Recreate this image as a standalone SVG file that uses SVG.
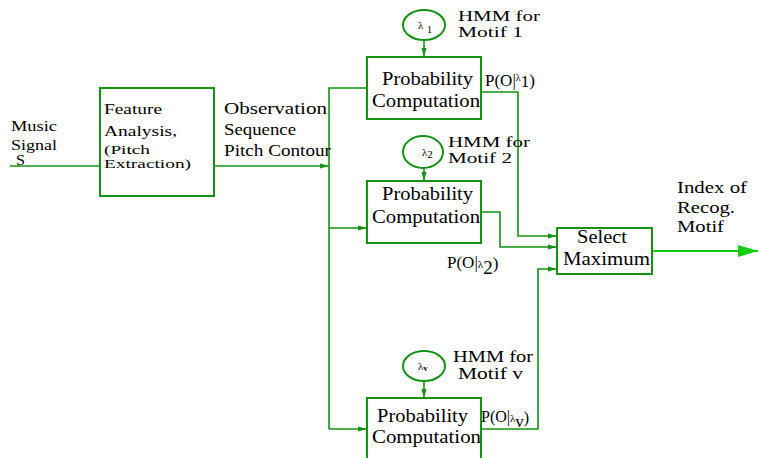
<svg xmlns="http://www.w3.org/2000/svg" width="758" height="458" viewBox="0 0 758 458">
<defs>
<style>
text{font-family:'Liberation Serif','Times New Roman',Times,serif;fill:#000}
.f13{font-size:13px}
.f14{font-size:14px}
.f15{font-size:15px}
.f16{font-size:16px}
.f17{font-size:17px}
.f18{font-size:18px}
.box{fill:none;stroke:#159115;stroke-width:2}
.ln{fill:none;stroke:#159115;stroke-width:1.6}
</style>
<marker id="ah" markerWidth="10" markerHeight="8" refX="9" refY="4" orient="auto" markerUnits="userSpaceOnUse">
<path d="M0,1.5 L9,4 L0,6.5 Z" fill="#159115"/>
</marker>
<marker id="big" markerWidth="22" markerHeight="14" refX="20" refY="7" orient="auto" markerUnits="userSpaceOnUse">
<path d="M0,1 L20,7 L0,13 Z" fill="#11cc11"/>
</marker>
</defs>
<rect width="758" height="458" fill="#fff"/>
<g id="connectors">
<line class="ln" x1="10" y1="166" x2="100" y2="166"/>
<line class="ln" x1="214" y1="166" x2="329" y2="166" marker-end="url(#ah)"/>
<polyline class="ln" points="367,88 329,88 329,429"/>
<line class="ln" x1="329" y1="228" x2="367" y2="228" marker-end="url(#ah)"/>
<line class="ln" x1="329" y1="429" x2="367" y2="429" marker-end="url(#ah)"/>
<line class="ln" x1="424" y1="40" x2="424" y2="57" marker-end="url(#ah)"/>
<line class="ln" x1="424" y1="169" x2="424" y2="181" marker-end="url(#ah)"/>
<line class="ln" x1="424" y1="381" x2="424" y2="398" marker-end="url(#ah)"/>
<polyline class="ln" points="481,92 518,92 518,236 557,236" marker-end="url(#ah)"/>
<polyline class="ln" points="481,212 500,212 500,247 557,247" marker-end="url(#ah)"/>
<polyline class="ln" points="481,429 538,429 538,269 557,269" marker-end="url(#ah)"/>
<line x1="652" y1="251" x2="758" y2="251" stroke="#11cc11" stroke-width="2" marker-end="url(#big)"/>
</g>
<g id="input">
<text class="f15" x="11" y="131" textLength="46" lengthAdjust="spacingAndGlyphs">Music</text>
<text class="f15" x="11" y="150" textLength="46" lengthAdjust="spacingAndGlyphs">Signal</text>
<text class="f15" x="16" y="165" textLength="9" lengthAdjust="spacingAndGlyphs">S</text>
</g>
<g id="feature">
<rect class="box" x="100" y="88" width="114" height="108"/>
<text class="f14" x="104" y="114" textLength="58" lengthAdjust="spacingAndGlyphs">Feature</text>
<text class="f14" x="104" y="136" textLength="73" lengthAdjust="spacingAndGlyphs">Analysis,</text>
<text class="f13" x="104" y="154" textLength="46" lengthAdjust="spacingAndGlyphs">(Pitch</text>
<text class="f13" x="104" y="168" textLength="87" lengthAdjust="spacingAndGlyphs">Extraction)</text>
</g>
<g id="observation">
<text class="f16" x="224" y="114" textLength="103" lengthAdjust="spacingAndGlyphs">Observation</text>
<text class="f16" x="224" y="135" textLength="72" lengthAdjust="spacingAndGlyphs">Sequence</text>
<text class="f16" x="224" y="156" textLength="107" lengthAdjust="spacingAndGlyphs">Pitch Contour</text>
</g>
<g id="hmm1">
<ellipse class="box" cx="424" cy="25" rx="21" ry="15"/>
<text font-size="11" x="418" y="29">λ</text>
<text font-size="10" x="427" y="33">1</text>
<text class="f15" x="458" y="21" textLength="82" lengthAdjust="spacingAndGlyphs">HMM for</text>
<text class="f15" x="458" y="37" textLength="65" lengthAdjust="spacingAndGlyphs">Motif 1</text>
</g>
<g id="prob1">
<rect class="box" x="367" y="57" width="114" height="62"/>
<text class="f18" x="382" y="85" textLength="91" lengthAdjust="spacingAndGlyphs">Probability</text>
<text class="f18" x="372" y="107" textLength="108" lengthAdjust="spacingAndGlyphs">Computation</text>
<text class="f17" x="485" y="86">P(O|<tspan font-size="10" dy="-5">λ</tspan><tspan dy="6">1</tspan><tspan dy="-1">)</tspan></text>
</g>
<g id="hmm2">
<ellipse class="box" cx="423" cy="152" rx="20" ry="16"/>
<text font-size="11" x="422" y="156">λ<tspan font-size="11" dy="2">2</tspan></text>
<text class="f15" x="448" y="147" textLength="82" lengthAdjust="spacingAndGlyphs">HMM for</text>
<text class="f15" x="448" y="163" textLength="64" lengthAdjust="spacingAndGlyphs">Motif 2</text>
</g>
<g id="prob2">
<rect class="box" x="367" y="181" width="114" height="62"/>
<text class="f18" x="382" y="200" textLength="91" lengthAdjust="spacingAndGlyphs">Probability</text>
<text class="f18" x="372" y="223" textLength="108" lengthAdjust="spacingAndGlyphs">Computation</text>
<text class="f17" x="447" y="268">P(O|<tspan font-size="11">λ</tspan><tspan font-size="19" dy="6">2</tspan><tspan dy="-5">)</tspan></text>
</g>
<g id="hmmv">
<ellipse class="box" cx="424" cy="366" rx="21" ry="15"/>
<text font-size="11" x="418" y="370">λ<tspan font-size="9" font-weight="bold" dy="1">v</tspan></text>
<text class="f16" x="453" y="362" textLength="80" lengthAdjust="spacingAndGlyphs">HMM for</text>
<text class="f16" x="458" y="379" textLength="65" lengthAdjust="spacingAndGlyphs">Motif v</text>
</g>
<g id="probv">
<rect class="box" x="367" y="398" width="114" height="66"/>
<text class="f18" x="377" y="422" textLength="91" lengthAdjust="spacingAndGlyphs">Probability</text>
<text class="f18" x="372" y="443" textLength="109" lengthAdjust="spacingAndGlyphs">Computation</text>
<text class="f16" x="481" y="422">P(O|<tspan font-size="11">λ</tspan><tspan font-size="17" dy="5">v</tspan><tspan dy="-4">)</tspan></text>
</g>
<g id="select">
<rect class="box" x="557" y="228" width="95" height="46"/>
<text class="f18" x="577" y="243" textLength="50" lengthAdjust="spacingAndGlyphs">Select</text>
<text class="f18" x="563" y="265" textLength="87" lengthAdjust="spacingAndGlyphs">Maximum</text>
</g>
<g id="output">
<text class="f16" x="677" y="193" textLength="70" lengthAdjust="spacingAndGlyphs">Index of</text>
<text class="f16" x="677" y="213" textLength="58" lengthAdjust="spacingAndGlyphs">Recog.</text>
<text class="f16" x="677" y="232" textLength="47" lengthAdjust="spacingAndGlyphs">Motif</text>
</g>
</svg>
